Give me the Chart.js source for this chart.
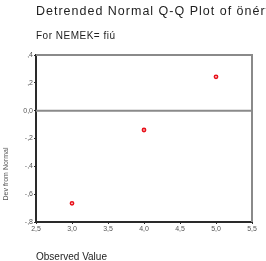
<!DOCTYPE html>
<html>
<head>
<meta charset="utf-8">
<script src="https://cdn.jsdelivr.net/npm/chart.js@4"></script>
<style>
  html, body { margin: 0; padding: 0; background: #ffffff; }
  #wrap { width: 266px; height: 261px; }
</style>
</head>
<body>
<div id="wrap"><canvas id="qq"></canvas></div>
<script>
// observed values and their deviation from normal
const observed = [3.0, 4.0, 5.0];
const deviation = [-0.666, -0.139, 0.243];

const xTicks = [2.5, 3.0, 3.5, 4.0, 4.5, 5.0, 5.5];
const yTicks = [-0.8, -0.6, -0.4, -0.2, 0.0, 0.2, 0.4];

const chartTitle = 'Detrended Normal Q-Q Plot of önértékelés';
const subTitle = 'For NEMEK= fiú';
const xTitle = 'Observed Value';
const yTitle = 'Dev from Normal';

// SPSS style numbers: comma decimal, no leading zero
function spssNum(v, keepZero) {
    v = Math.round(v * 10) / 10;
    if (v === 0) return '0,0';
    let s = Math.abs(v).toFixed(1).replace('.', ',');
    if (!keepZero) s = s.replace(/^0/, '');
    return (v < 0 ? '-' : '') + s;
}

// frame, zero line and the texts around the plot
const framePlugin = {
    id: 'frame',
    beforeDatasetsDraw(chart) {
        const { ctx, chartArea: a, scales } = chart;
        ctx.save();
        ctx.strokeStyle = '#8a8a8a';
        ctx.lineWidth = 2;
        const y0 = scales.y.getPixelForValue(0);
        ctx.beginPath();
        ctx.moveTo(a.left, y0);
        ctx.lineTo(a.right, y0);
        ctx.moveTo(a.left, a.top);
        ctx.lineTo(a.right, a.top);
        ctx.lineTo(a.right, a.bottom);
        ctx.stroke();
        ctx.restore();
    },
    afterDraw(chart) {
        const { ctx } = chart;
        ctx.save();
        ctx.fillStyle = '#1e1e1e';
        ctx.textAlign = 'left';
        ctx.textBaseline = 'alphabetic';
        ctx.font = '12.5px "Liberation Sans", Arial, sans-serif';
        ctx.letterSpacing = '1px';
        ctx.fillText(chartTitle, 36, 15);
        ctx.font = '10px "Liberation Sans", Arial, sans-serif';
        ctx.letterSpacing = '0.5px';
        ctx.fillText(subTitle, 36, 39);
        ctx.letterSpacing = '0px';
        ctx.fillText(xTitle, 36, 260);
        ctx.translate(7.5, 174);
        ctx.rotate(-Math.PI / 2);
        ctx.textAlign = 'center';
        ctx.fillStyle = '#555555';
        ctx.font = '7px "Liberation Sans", Arial, sans-serif';
        ctx.fillText(yTitle, 0, 0);
        ctx.restore();
    }
};

new Chart(document.getElementById('qq'), {
    type: 'scatter',
    data: {
        datasets: [{
            data: observed.map((x, i) => ({ x: x, y: deviation[i] })),
            pointStyle: 'circle',
            pointRadius: 1.6,
            pointBorderWidth: 1.6,
            pointBorderColor: '#e8101a',
            pointBackgroundColor: '#ffffff'
        }]
    },
    options: {
        responsive: true,
        maintainAspectRatio: false,
        animation: false,
        events: [],
        layout: { padding: { top: 55, right: 14, left: 0, bottom: 0 } },
        plugins: {
            legend: { display: false },
            tooltip: { enabled: false }
        },
        scales: {
            x: {
                type: 'linear',
                min: 2.5,
                max: 5.5,
                afterBuildTicks: scale => { scale.ticks = xTicks.map(v => ({ value: v })); },
                afterFit: scale => { scale.height = 39; },
                border: { display: true, color: '#2a2a2a', width: 2 },
                grid: { display: true, drawOnChartArea: false, drawTicks: true, tickLength: 2, color: '#2a2a2a', lineWidth: 1 },
                ticks: {
                    color: '#555555',
                    padding: 1,
                    maxRotation: 0,
                    autoSkip: false,
                    font: { size: 7, family: '"Liberation Sans", Arial, sans-serif' },
                    callback: v => spssNum(v, true)
                }
            },
            y: {
                type: 'linear',
                min: -0.8,
                max: 0.4,
                afterBuildTicks: scale => { scale.ticks = yTicks.map(v => ({ value: v })); },
                afterFit: scale => { scale.width = 36; },
                border: { display: true, color: '#2a2a2a', width: 2 },
                grid: { display: true, drawOnChartArea: false, drawTicks: true, tickLength: 2, color: '#2a2a2a', lineWidth: 1 },
                ticks: {
                    color: '#555555',
                    padding: 1,
                    autoSkip: false,
                    font: { size: 7, family: '"Liberation Sans", Arial, sans-serif' },
                    callback: v => spssNum(v, false)
                }
            }
        }
    },
    plugins: [framePlugin]
});
</script>
</body>
</html>
